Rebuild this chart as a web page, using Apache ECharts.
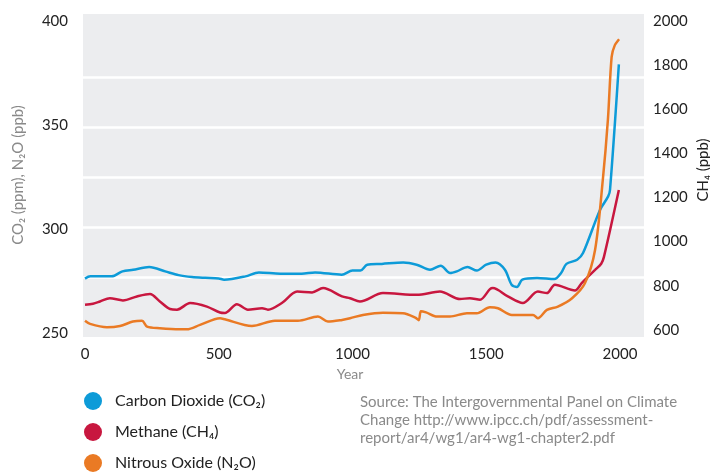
<!DOCTYPE html>
<html>
<head>
<meta charset="utf-8">
<script src="https://cdn.jsdelivr.net/npm/echarts@6/dist/echarts.min.js"></script>
<style>
html,body{margin:0;padding:0;background:#fff;}
#chart{width:710px;height:473px;}
</style>
</head>
<body>
<div id="chart"></div>
<script>
// ---- Data ----
const co2Years = [0,20,100,140,180,240,300,350,400,450,500,520,600,650,730,810,860,960,1000,1030,1055,1110,1190,1240,1290,1330,1365,1390,1430,1465,1500,1535,1570,1595,1615,1635,1690,1755,1780,1800,1840,1862,1925,1956,1963,1996];
const co2Values = [276.1,277.2,277.2,279.6,280.4,281.7,279.6,277.8,276.9,276.5,276.2,275.6,277.2,279.1,278.5,278.5,279.1,278.0,280.0,280.0,282.8,283.2,283.9,282.8,280.4,282.3,278.8,279.6,281.7,280.0,282.8,283.9,280.4,273.2,272.1,275.6,276.4,275.9,278.8,283.2,285.2,288.4,309.0,315.6,318.8,379.0];

const ch4Years = [0,30,56,93,142,194,243,280,318,344,393,456,505,523,568,609,662,684,736,793,849,890,961,991,1028,1114,1241,1327,1402,1439,1477,1514,1525,1581,1637,1693,1727,1757,1832,1857,1880,1907,1930,1940,1996];
const ch4Values = [714,719,729,744,734,752,763,729,695,692,722,706,679,677,717,692,699,692,722,774,770,790,752,744,729,767,759,774,740,744,737,785,790,752,722,774,767,805,779,812,840,872,900,930,1234];

const n2oYears = [0,19,82,131,179,213,232,280,355,381,430,505,523,624,710,796,871,908,961,991,1039,1114,1189,1235,1248,1256,1275,1316,1364,1428,1465,1514,1544,1596,1675,1693,1727,1768,1821,1869,1907,1936,1955,1969,1981,1997];
const n2oValues = [256.0,254.5,252.9,253.5,255.6,256.0,253.2,252.4,251.9,251.9,254.0,257.2,256.7,253.5,256.0,256.0,258.0,255.6,256.4,257.2,258.8,259.9,259.6,257.5,256.3,260.6,260.0,258.0,258.0,259.6,259.6,262.5,262.0,258.8,258.8,257.2,261.2,262.8,266.8,274.0,290.0,323.6,352.4,382.7,388.3,391.1];

const leftTicks = {min: 250, max: 400, interval: 50};
const rightTicks = {min: 600, max: 2000, interval: 200};
const xTicks = {min: 0, max: 2090, interval: 500};
// white horizontal guide lines, in left-axis units (277, 301, ... 373)
const guideTicks = {min: 277, max: 373, interval: 24};

const seriesNames = ['Carbon Dioxide (CO₂)', 'Methane (CH₄)', 'Nitrous Oxide (N₂O)'];
const colors = ['#0d9bd8', '#c8173f', '#ea7a24'];
const sourceText = 'Source: The Intergovernmental Panel on Climate\nChange http://www.ipcc.ch/pdf/assessment-\nreport/ar4/wg1/ar4-wg1-chapter2.pdf';

function pairs(xs, ys){ return xs.map((x,i)=>[x, ys[i]]); }

const FONT = 'Lato';
const chart = echarts.init(document.getElementById('chart'), null, {renderer:'canvas'});

const option = {
  animation:false,
  backgroundColor:'#ffffff',
  textStyle:{fontFamily:FONT},
  grid:[
    {left:85, top:20.7, width:559, height:312.3, show:false},
    {left:85, top:20.7, width:559, height:309.3, show:false},
    {left:83, top:77, width:561, height:200, show:false}
  ],
  xAxis:[
    {type:'value', gridIndex:0, min:xTicks.min, max:xTicks.max, interval:xTicks.interval,
     axisLine:{show:false}, axisTick:{show:false}, splitLine:{show:false},
     axisLabel:{color:'#222', fontSize:15, fontFamily:FONT, margin:14,
       formatter:(v)=> (v <= 2000) ? String(v) : ''}},
    {type:'value', gridIndex:1, show:false, min:xTicks.min, max:xTicks.max},
    {type:'value', gridIndex:2, min:-7.5, max:xTicks.max,
     axisLine:{show:false}, axisTick:{show:false}, axisLabel:{show:false}, splitLine:{show:false}}
  ],
  yAxis:[
    {type:'value', gridIndex:0, position:'left', min:leftTicks.min, max:leftTicks.max, interval:leftTicks.interval,
     axisLine:{show:false}, axisTick:{show:false}, splitLine:{show:false},
     axisLabel:{color:'#222', fontSize:15, fontFamily:FONT, margin:17, formatter:(v)=>String(v)}},
    {type:'value', gridIndex:1, position:'right', min:rightTicks.min, max:rightTicks.max, interval:rightTicks.interval,
     axisLine:{show:false}, axisTick:{show:false}, splitLine:{show:false},
     axisLabel:{color:'#222', fontSize:15, fontFamily:FONT, margin:9, formatter:(v)=>String(v)}},
    {type:'value', gridIndex:2, position:'left', min:guideTicks.min, max:guideTicks.max, interval:guideTicks.interval,
     axisLine:{show:false}, axisTick:{show:false}, axisLabel:{show:false},
     splitLine:{show:true, lineStyle:{color:'#ffffff', width:2.5, type:'solid'}}}
  ],
  legend:{
    orient:'vertical', left:84, top:392, height:82, padding:0,
    icon:'circle', itemWidth:18, itemHeight:18, itemGap:13,
    data:seriesNames,
    textStyle:{color:'#222', fontSize:16, fontFamily:FONT, padding:[0,0,0,8]}
  },
  graphic:[
    {type:'rect', z:-100, silent:true, shape:{x:83, y:14, width:561, height:323}, style:{fill:'#ecedef'}},
    {type:'text', x:350, y:374, style:{text:'Year', fill:'#8a8a8a', font:'14px '+FONT, textAlign:'center', textVerticalAlign:'middle'}},
    {type:'text', x:18, y:175, rotation:Math.PI/2, style:{text:'CO₂ (ppm), N₂O (ppb)', fill:'#8a8a8a', font:'15px '+FONT, textAlign:'center', textVerticalAlign:'middle'}},
    {type:'text', x:703, y:170, rotation:Math.PI/2, style:{text:'CH₄ (ppb)', fill:'#222', font:'15px '+FONT, textAlign:'center', textVerticalAlign:'middle'}},
    {type:'text', x:360, y:393, style:{text:sourceText, fill:'#8a8a8a', font:'15px '+FONT, lineHeight:18}}
  ],
  series:[
    {name:seriesNames[0], type:'line', xAxisIndex:0, yAxisIndex:0, data:pairs(co2Years, co2Values),
     showSymbol:false, smooth:0.3, lineStyle:{width:2.5, color:colors[0]}, itemStyle:{color:colors[0]}, z:3},
    {name:seriesNames[1], type:'line', xAxisIndex:1, yAxisIndex:1, data:pairs(ch4Years, ch4Values),
     showSymbol:false, smooth:0.3, lineStyle:{width:2.5, color:colors[1]}, itemStyle:{color:colors[1]}, z:3},
    {name:seriesNames[2], type:'line', xAxisIndex:2, yAxisIndex:2, data:pairs(n2oYears, n2oValues), clip:false,
     showSymbol:false, smooth:0.3, lineStyle:{width:2.5, color:colors[2]}, itemStyle:{color:colors[2]}, z:3}
  ]
};
chart.setOption(option);
</script>
</body>
</html>
